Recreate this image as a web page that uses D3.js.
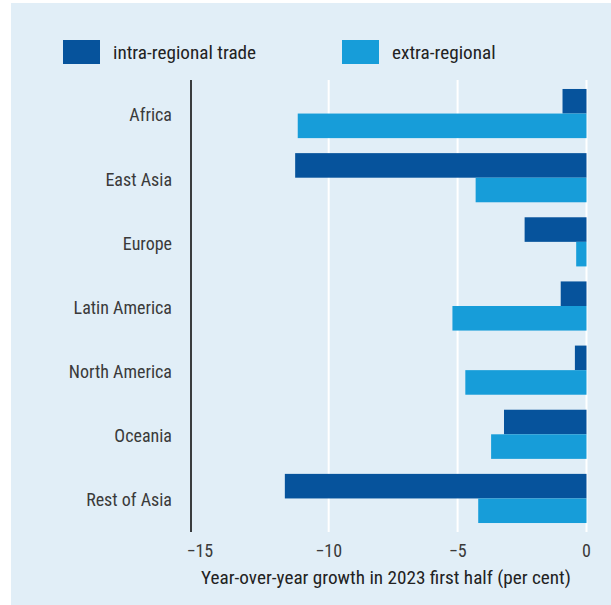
<!DOCTYPE html>
<html><head><meta charset="utf-8">
<script src="https://cdn.jsdelivr.net/npm/d3@7"></script>
<style>
html,body{margin:0;padding:0;background:#fff;}
text{font-family:"Roboto Condensed","Liberation Sans Narrow","Roboto",sans-serif;}
</style></head>
<body>
<svg id="chart" width="611" height="605"></svg>
<script>
const categories = ["Africa","East Asia","Europe","Latin America","North America","Oceania","Rest of Asia"];
const intraRegional = [-0.93,-11.3,-2.4,-1.0,-0.45,-3.2,-11.7];
const extraRegional = [-11.2,-4.3,-0.4,-5.2,-4.7,-3.7,-4.2];
const seriesNames = ["intra-regional trade","extra-regional"];
const tickValues = [-15,-10,-5,0];
const xTitle = "Year-over-year growth in 2023 first half (per cent)";

const colors = ["#06539c","#179dd9"];
const svg = d3.select("#chart");
svg.append("rect").attr("x",11).attr("y",3).attr("width",600).attr("height",602).attr("fill","#e1eef7");

const x = d3.scaleLinear().domain([-15.34,0]).range([191,586.5]);
const y = d3.scaleBand().domain(categories).range([80,532]).paddingInner(0.234).paddingOuter(0.14);
const y2 = d3.scaleBand().domain([0,1]).range([0,y.bandwidth()]);

// gridlines
svg.append("g").selectAll("line").data(tickValues.filter(t=>t>-15)).join("line")
  .attr("x1",d=>x(d)).attr("x2",d=>x(d)).attr("y1",80).attr("y2",532)
  .attr("stroke","#fff").attr("stroke-width",2);

const series = [intraRegional, extraRegional];
series.forEach((vals,si)=>{
  svg.append("g").selectAll("rect").data(vals).join("rect")
    .attr("x",d=>x(Math.min(0,d)))
    .attr("width",d=>Math.abs(x(d)-x(0)))
    .attr("y",(d,i)=>y(categories[i])+y2(si))
    .attr("height",y2.bandwidth())
    .attr("fill",colors[si]);
});

// axis line
svg.append("line").attr("x1",191).attr("x2",191).attr("y1",80).attr("y2",532)
  .attr("stroke","#000").attr("stroke-width",1.5);

// category labels
svg.append("g").selectAll("text").data(categories).join("text")
  .attr("x",172).attr("y",d=>y(d)+y.bandwidth()/2+1.5).attr("dy","0.35em")
  .attr("text-anchor","end").attr("font-size",18).attr("fill","#3a3a3a").text(d=>d);

// tick labels
svg.append("g").selectAll("text").data(tickValues).join("text")
  .attr("x",d=>x(d)).attr("y",557).attr("text-anchor","middle")
  .attr("font-size",18).attr("fill","#3a3a3a").text(d=>d<0?"\u2212"+Math.abs(d):d);

svg.append("text").attr("x",386).attr("y",584).attr("text-anchor","middle")
  .attr("font-size",19.2).attr("fill","#222").text(xTitle);

// legend
const legX=[63,342];
seriesNames.forEach((n,i)=>{
  svg.append("rect").attr("x",legX[i]).attr("y",40).attr("width",37).attr("height",24).attr("fill",colors[i]);
  svg.append("text").attr("x",legX[i]+50).attr("y",52).attr("dy","0.35em")
    .attr("font-size",19.2).attr("fill","#222").text(n);
});
</script>
</body></html>
